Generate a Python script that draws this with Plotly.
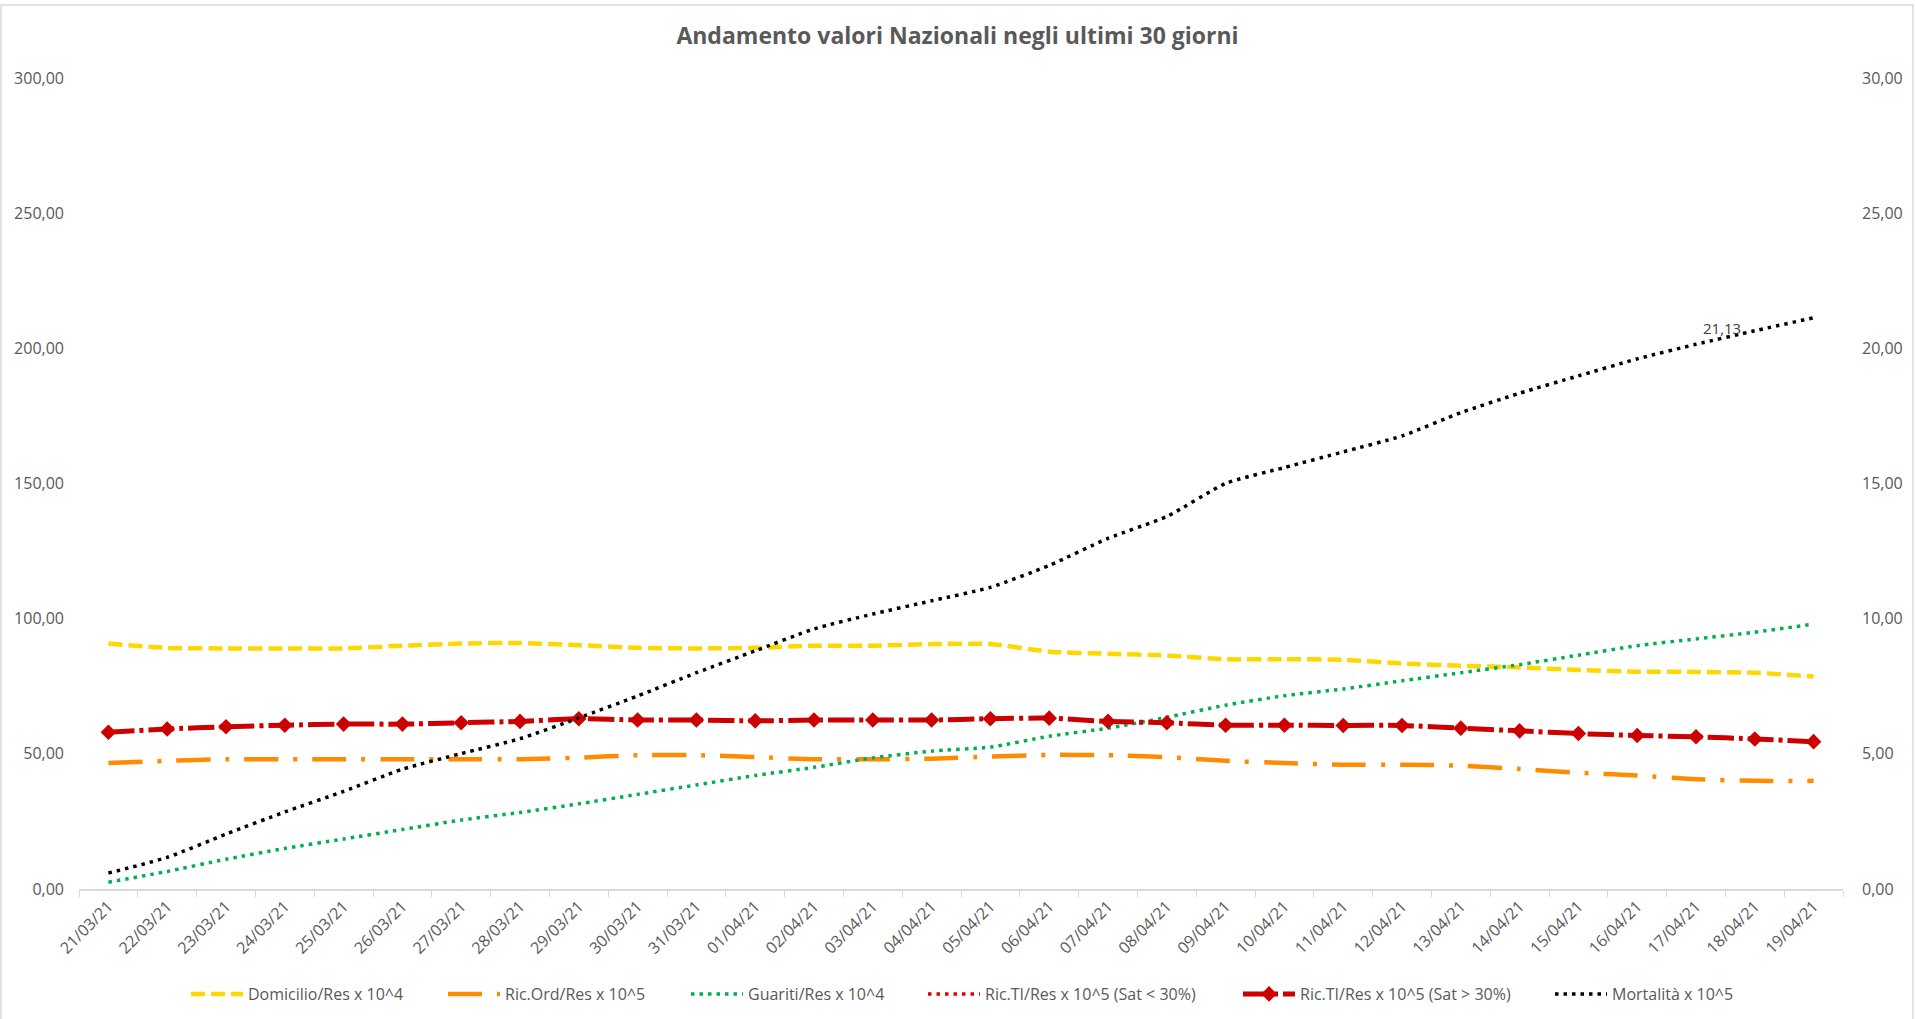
import plotly.graph_objects as go

dates = ["21/03/21","22/03/21","23/03/21","24/03/21","25/03/21","26/03/21","27/03/21","28/03/21",
         "29/03/21","30/03/21","31/03/21","01/04/21","02/04/21","03/04/21","04/04/21","05/04/21",
         "06/04/21","07/04/21","08/04/21","09/04/21","10/04/21","11/04/21","12/04/21","13/04/21",
         "14/04/21","15/04/21","16/04/21","17/04/21","18/04/21","19/04/21"]

domicilio = [90.8, 89.2, 89.0, 89.0, 89.0, 90.0, 90.8, 91.0, 90.2, 89.2, 89.0, 89.2, 90.0, 90.0, 90.6,
             90.6, 87.8, 87.0, 86.4, 85.0, 85.0, 84.8, 83.4, 82.6, 82.0, 81.0, 80.4, 80.3, 80.0, 78.6]
ric_ord = [46.6, 47.4, 48.0, 48.0, 48.0, 48.0, 48.0, 48.0, 48.6, 49.5, 49.5, 48.8, 48.0, 48.0, 48.2,
           49.0, 49.6, 49.5, 48.8, 47.4, 46.6, 46.0, 46.0, 45.6, 44.4, 43.0, 42.0, 40.6, 40.0, 40.0]
guariti = [2.5, 6.5, 11.0, 15.0, 18.5, 22.0, 25.5, 28.3, 31.5, 35.0, 38.5, 42.0, 45.0, 48.5, 51.0,
           52.5, 56.5, 59.5, 63.5, 68.0, 71.5, 74.0, 77.0, 80.0, 83.0, 86.5, 90.0, 92.5, 95.0, 98.0]
ric_ti_low = [None] * 30
ric_ti_high = [5.80, 5.92, 6.00, 6.06, 6.10, 6.10, 6.15, 6.20, 6.30, 6.25, 6.25, 6.22, 6.25, 6.25, 6.25,
               6.30, 6.32, 6.20, 6.15, 6.06, 6.06, 6.05, 6.05, 5.95, 5.85, 5.75, 5.68, 5.63, 5.55, 5.45]
mortalita = [0.59, 1.17, 2.03, 2.85, 3.61, 4.43, 5.01, 5.56, 6.33, 7.14, 8.00, 8.81, 9.62, 10.17, 10.66,
             11.16, 11.97, 12.97, 13.78, 15.00, 15.59, 16.17, 16.76, 17.62, 18.34, 18.98, 19.61, 20.15,
             20.65, 21.13]

title = "Andamento valori Nazionali negli ultimi 30 giorni"
left_ticks = [0, 50, 100, 150, 200, 250, 300]
right_ticks = [0, 5, 10, 15, 20, 25, 30]

FONT = "Open Sans"
GREY = "#595959"

fig = go.Figure()
fig.add_trace(go.Scatter(x=dates, y=domicilio, name="Domicilio/Res x 10^4", mode="lines", legend="legend",
                         line=dict(color="#FFD700", width=4.5, dash="14px,6px", shape="spline", smoothing=0.6)))
fig.add_trace(go.Scatter(x=dates, y=ric_ord, name="Ric.Ord/Res x 10^5", mode="lines", legend="legend2",
                         line=dict(color="#FF8C00", width=4.5, dash="34px,15px,4px,15px", shape="spline", smoothing=0.6)))
fig.add_trace(go.Scatter(x=dates, y=guariti, name="Guariti/Res x 10^4", mode="lines", legend="legend3",
                         line=dict(color="#00B050", width=3.5, dash="3.5px,5px", shape="spline", smoothing=0.6)))
fig.add_trace(go.Scatter(x=dates, y=ric_ti_low, name="Ric.TI/Res x 10^5 (Sat < 30%)", mode="lines",
                         yaxis="y2", legend="legend4",
                         line=dict(color="#E00000", width=3.5, dash="3.5px,5px")))
fig.add_trace(go.Scatter(x=dates, y=ric_ti_high, name="Ric.TI/Res x 10^5 (Sat > 30%)", mode="lines+markers",
                         yaxis="y2", legend="legend5",
                         marker=dict(symbol="diamond", size=12, color="#CC0000"),
                         line=dict(color="#CC0000", width=5, dash="26px,5px,4px,5px", shape="spline", smoothing=0.6)))
fig.add_trace(go.Scatter(x=dates, y=mortalita, name="Mortalità x 10^5", mode="lines",
                         yaxis="y2", legend="legend6",
                         line=dict(color="#000000", width=3.5, dash="3.5px,5px", shape="spline", smoothing=0.6)))

fig.add_annotation(x=dates[-1], y=mortalita[-1], yref="y2", text="21,13", showarrow=False,
                   xshift=-92, yshift=-10, font=dict(family=FONT, size=15, color="#404040"))

fig.add_shape(type="rect", xref="paper", yref="paper",
              x0=-78 / 1764, x1=1834 / 1764, y0=(889 - 1030) / 811, y1=(889 - 5) / 811,
              line=dict(color="#D9D9D9", width=1.5), fillcolor="rgba(0,0,0,0)", layer="below")

legend_px = [190, 447, 690, 927, 1242, 1554]
legend_common = dict(orientation="h", xanchor="left", y=(889 - 994) / 811, yanchor="middle",
                     font=dict(family=FONT, size=16, color=GREY), itemwidth=52, bgcolor="rgba(0,0,0,0)")
legends = {}
for i, px in enumerate(legend_px):
    key = "legend" if i == 0 else f"legend{i + 1}"
    legends[key] = dict(legend_common, x=(px - 79 - 4) / 1764)

fig.update_layout(
    width=1915, height=1019,
    margin=dict(l=79, r=72, t=78, b=130, autoexpand=False),
    paper_bgcolor="white", plot_bgcolor="white",
    separators=",.",
    font=dict(family=FONT, color=GREY, size=16),
    title=dict(text="<b>" + title + "</b>", x=0.5, xanchor="center", y=1 - 36 / 1019, yanchor="middle",
               font=dict(family=FONT, size=23, color=GREY)),
    showlegend=True,
    xaxis=dict(type="category", range=[-0.5, len(dates) - 0.5], showgrid=False, showline=True,
               linecolor="#D9D9D9", linewidth=1.5,
               ticks="outside", tickson="boundaries", ticklen=6, tickcolor="#D9D9D9", automargin=False,
               tickangle=-45, tickfont=dict(family=FONT, size=16, color=GREY), zeroline=False),
    yaxis=dict(range=[0, 300], tickvals=left_ticks, tickformat=".2f", showgrid=False, zeroline=False,
               showline=False, ticks="", automargin=False, ticklabelstandoff=14,
               tickfont=dict(family=FONT, size=16, color=GREY)),
    yaxis2=dict(range=[0, 30], tickvals=right_ticks, tickformat=".2f", overlaying="y", side="right",
                showgrid=False, zeroline=False, showline=False, ticks="", automargin=False,
                ticklabelstandoff=18, tickfont=dict(family=FONT, size=16, color=GREY)),
    **legends,
)

fig.write_html("out.html", config={"displayModeBar": False},
               post_script="document.body.style.margin='0px';")
